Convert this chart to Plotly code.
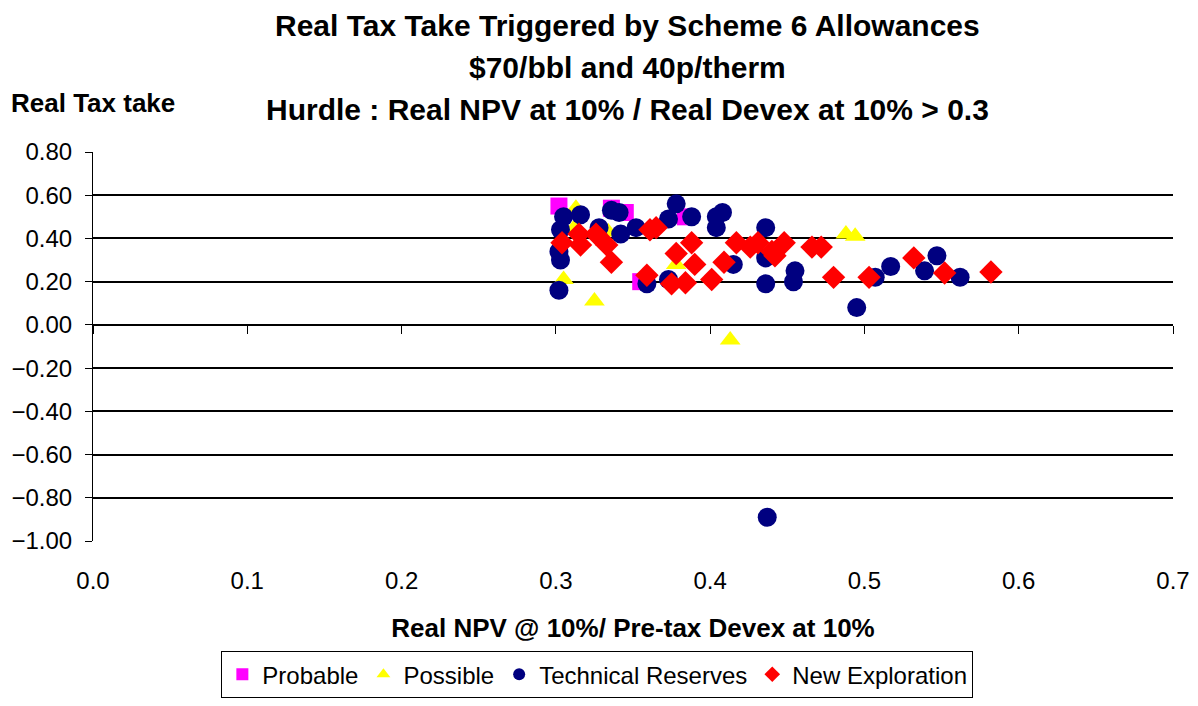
"""Real tax take vs NPV/Devex scatter, Scheme 6 allowances."""
import plotly.graph_objects as go

# Probable
prob_x = [0.302, 0.336, 0.345, 0.384, 0.355]
prob_y = [0.55, 0.54, 0.52, 0.50, 0.20]

# Possible
poss_x = [0.313, 0.312, 0.334, 0.305, 0.325, 0.378, 0.413, 0.488, 0.494]
poss_y = [0.54, 0.45, 0.43, 0.21, 0.11, 0.28, -0.07, 0.42, 0.41]

# Technical Reserves
tech_x = [0.305, 0.316, 0.303, 0.302, 0.303, 0.302, 0.328, 0.336, 0.341, 0.342,
          0.352, 0.378, 0.373, 0.388, 0.404, 0.408, 0.404, 0.436, 0.415, 0.359,
          0.373, 0.436, 0.436, 0.455, 0.454, 0.495, 0.507, 0.517, 0.539, 0.547,
          0.562, 0.437]
tech_y = [0.50, 0.51, 0.44, 0.34, 0.30, 0.16, 0.45, 0.53, 0.52, 0.42,
          0.45, 0.56, 0.49, 0.50, 0.50, 0.52, 0.45, 0.45, 0.28, 0.19,
          0.21, 0.19, 0.31, 0.25, 0.20, 0.08, 0.22, 0.27, 0.25, 0.32,
          0.22, -0.89]

# New Exploration
expl_x = [0.304, 0.315, 0.316, 0.326, 0.333, 0.336, 0.361, 0.365, 0.378, 0.388,
          0.390, 0.409, 0.359, 0.375, 0.384, 0.401, 0.417, 0.426, 0.431, 0.440,
          0.448, 0.442, 0.466, 0.472, 0.480, 0.503, 0.532, 0.552, 0.582]
expl_y = [0.38, 0.42, 0.37, 0.42, 0.37, 0.29, 0.44, 0.45, 0.33, 0.38,
          0.28, 0.29, 0.23, 0.19, 0.195, 0.21, 0.38, 0.36, 0.38, 0.34,
          0.38, 0.32, 0.36, 0.36, 0.22, 0.22, 0.31, 0.24, 0.245]

x_ticks = [0.0, 0.1, 0.2, 0.3, 0.4, 0.5, 0.6, 0.7]
y_ticks = [0.8, 0.6, 0.4, 0.2, 0.0, -0.2, -0.4, -0.6, -0.8, -1.0]

FONT = "Liberation Sans, Arial, sans-serif"

fig = go.Figure()

series = [
    ("Probable", prob_x, prob_y, "square", "#FF00FF", 17),
    ("Possible", poss_x, poss_y, "triangle-up", "#FFFF00", 18),
    ("Technical Reserves", tech_x, tech_y, "circle", "#000080", 19),
    ("New Exploration", expl_x, expl_y, "diamond", "#FF0000", 18),
]
for name, xs, ys, sym, col, size in series:
    fig.add_trace(go.Scatter(
        x=xs, y=ys, mode="markers", name=name,
        marker=dict(symbol=sym, color=col, size=size, line=dict(width=0)),
    ))

# invisible trace carrying the tick-only axis that crosses at y=0
fig.add_trace(go.Scatter(x=[0.0, 0.7], y=[0, 0], xaxis="x2", mode="lines",
                         line=dict(width=0), hoverinfo="skip", showlegend=False))

title_lines = [
    "Real Tax Take Triggered by Scheme 6 Allowances",
    "$70/bbl and 40p/therm",
    "Hurdle : Real NPV at 10% / Real Devex at 10% > 0.3",
]
for i, line in enumerate(title_lines):
    fig.add_annotation(
        text=f"<b>{line}</b>", xref="paper", yref="paper",
        x=0.495, y=1.0, yanchor="middle", yshift=127 - 42 * i,
        showarrow=False, font=dict(size=30, color="black", family=FONT),
    )

fig.add_annotation(
    text="<b>Real Tax take</b>", xref="paper", yref="paper",
    x=-0.078, y=1.0, yanchor="middle", yshift=49, xanchor="left",
    showarrow=False, font=dict(size=26, color="black", family=FONT),
)

# page body has an 8px margin, so the figure is drawn 8px in and down
fig.update_layout(
    width=1182, height=690,
    paper_bgcolor="white", plot_bgcolor="white",
    margin=dict(l=85, r=17, t=144, b=157, autoexpand=False),
    font=dict(family=FONT, size=24, color="black"),
    xaxis=dict(
        range=[0, 0.7], tickvals=x_ticks, tickformat=".1f",
        showgrid=False, zeroline=False, showline=False, ticks="",
        title=dict(text="<b>Real NPV @ 10%/ Pre-tax Devex at 10%</b>",
                   font=dict(size=26), standoff=25),
        ticklabelstandoff=23, ticklabeloverflow="allow",
    ),
    xaxis2=dict(
        range=[0, 0.7], tickvals=x_ticks, overlaying="x", anchor="free",
        position=1.0 / 1.8, showticklabels=False, ticks="outside",
        ticklen=8, tickcolor="black", showline=True, linecolor="black",
        linewidth=1, showgrid=False, zeroline=False,
    ),
    yaxis=dict(
        range=[-1.0, 0.8], tickvals=y_ticks, tickformat=".2f",
        showgrid=True, gridcolor="black", gridwidth=1.5,
        zeroline=False, showline=True, linecolor="black", linewidth=1,
        ticks="outside", ticklen=7, tickcolor="black",
        ticklabelstandoff=8,
    ),
    legend=dict(
        orientation="h", xanchor="center", x=0.467, yanchor="bottom", y=-0.404,
        bordercolor="black", borderwidth=1, bgcolor="white",
        font=dict(size=24), itemsizing="constant", itemwidth=30,
        tracegroupgap=0,
    ),
    showlegend=True,
)

fig.write_html("out.html")
